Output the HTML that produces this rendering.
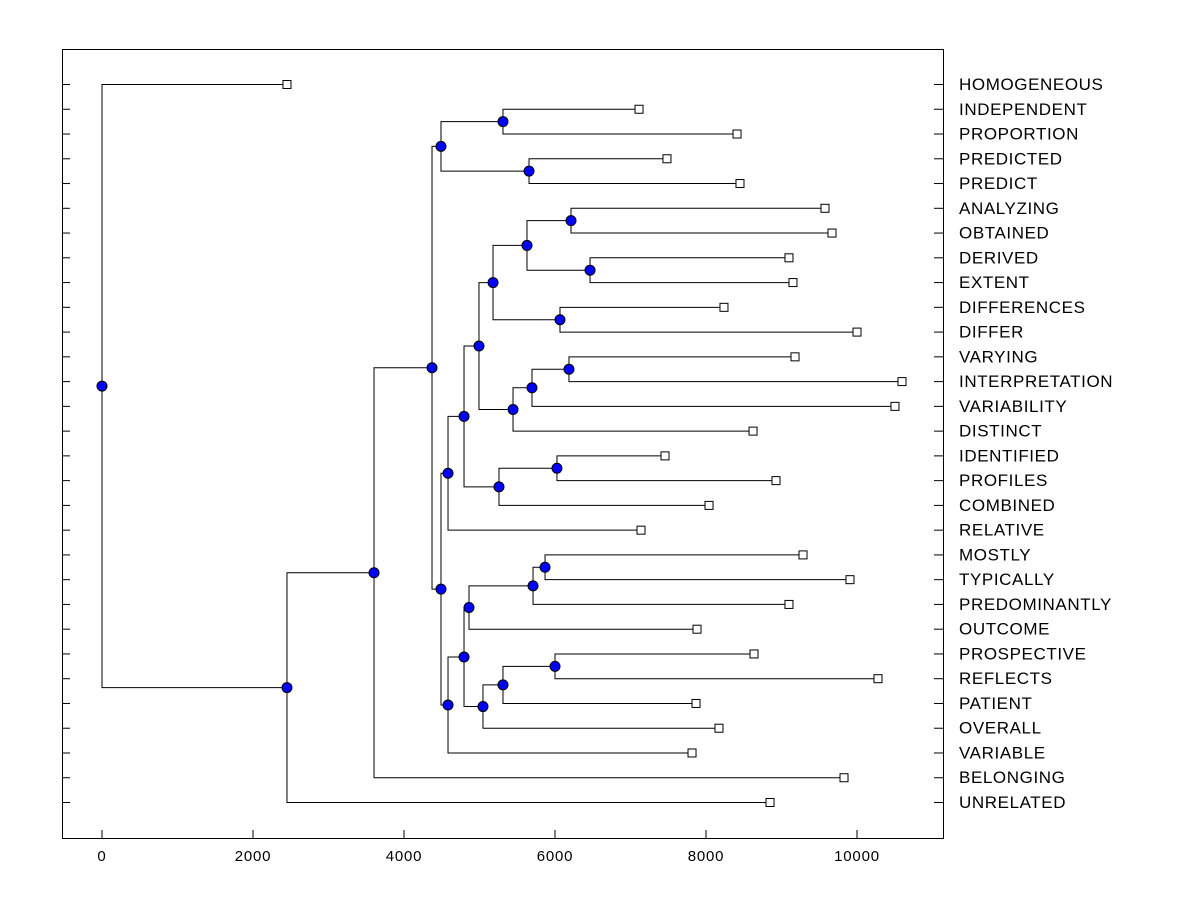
<!DOCTYPE html>
<html><head><meta charset="utf-8"><style>
html,body{margin:0;padding:0;background:#fff;}
svg{display:block;font-family:"Liberation Sans",Arial,sans-serif;}
</style></head><body>
<svg id="chart" width="1200" height="900" xmlns="http://www.w3.org/2000/svg">
<rect x="62.5" y="49.5" width="881" height="789" fill="none" stroke="#000" stroke-width="1"/>
<g id="ticks"></g><g id="links"></g><g id="marks"></g><g id="labels"></g>
</svg>
<script>
const labels=["HOMOGENEOUS","INDEPENDENT","PROPORTION","PREDICTED","PREDICT","ANALYZING","OBTAINED","DERIVED","EXTENT","DIFFERENCES","DIFFER","VARYING","INTERPRETATION","VARIABILITY","DISTINCT","IDENTIFIED","PROFILES","COMBINED","RELATIVE","MOSTLY","TYPICALLY","PREDOMINANTLY","OUTCOME","PROSPECTIVE","REFLECTS","PATIENT","OVERALL","VARIABLE","BELONGING","UNRELATED"];
const leafValues=[2450,7113,8411,7483,8450,9576,9669,9099,9152,8238,10000,9179,10596,10503,8623,7457,8927,8040,7139,9285,9907,9099,7881,8636,10278,7868,8172,7815,9828,8848];
const mergeLeft=[1,3,30,5,7,33,9,35,11,38,39,37,15,42,41,44,19,46,47,23,49,50,48,52,45,32,55,56,0];
const mergeRight=[2,4,31,6,8,34,10,36,12,13,14,40,16,17,43,18,20,21,22,24,25,26,51,27,53,54,28,29,57];
const mergeHeights=[5311,5656,4490,6212,6464,5629,6066,5179,6185,5695,5444,4993,6026,5258,4795,4583,5868,5709,4861,6000,5311,5046,4795,4583,4490,4371,3603,2450,0];
const xTicks=[0,2000,4000,6000,8000,10000];

const NS="http://www.w3.org/2000/svg";
const X0=102, PX=0.0755;
function xs(v){return X0+v*PX;}
function ys(i){return 84+i*(802-84)/29;}
function mk(tag,attrs,parent){const e=document.createElementNS(NS,tag);for(const k in attrs)e.setAttribute(k,attrs[k]);document.getElementById(parent).appendChild(e);return e;}

const nodeX={},nodeY={};
labels.forEach((l,i)=>{nodeX[i]=xs(leafValues[i]);nodeY[i]=ys(i);});
mergeHeights.forEach((h,k)=>{
  const id=30+k,a=mergeLeft[k],b=mergeRight[k];
  nodeX[id]=xs(h);nodeY[id]=(nodeY[a]+nodeY[b])/2;
  const p=mk('path',{d:`M${nodeX[a]},${nodeY[a]+0.5}H${nodeX[id]}V${nodeY[b]+0.5}H${nodeX[b]}`,fill:'none',stroke:'#000','stroke-width':1},'links');
  
  
});
labels.forEach((l,i)=>{
  const y=ys(i);
  const t1=mk('line',{x1:62,x2:70,y1:y+0.5,y2:y+0.5,stroke:'#000'},'ticks');
  
  
  const t2=mk('line',{x1:934,x2:943,y1:y+0.5,y2:y+0.5,stroke:'#000'},'ticks');
  
  
  const s=mk('rect',{x:nodeX[i]-4,y:y-3.5,width:8,height:8,fill:'#fff',stroke:'#000'},'marks');
  
  
  const t=mk('text',{x:959,y:y+6,'font-size':17,'letter-spacing':0.6,fill:'#000'},'labels');
  t.textContent=l;
  
  
});
mergeHeights.forEach((h,k)=>{
  const id=30+k;
  const c=mk('circle',{cx:nodeX[id],cy:nodeY[id]+0.5,r:5,fill:'#0000ff',stroke:'#000','stroke-width':1},'marks');
  
  
});
xTicks.forEach(v=>{
  const x=xs(v);
  const l=mk('line',{x1:x,x2:x,y1:830,y2:838,stroke:'#000'},'ticks');
  
  
  const t=mk('text',{x:x,y:861,'font-size':15,'letter-spacing':0.8,'text-anchor':'middle',fill:'#000'},'labels');
  t.textContent=v;
  
  
});
</script>
</body></html>
